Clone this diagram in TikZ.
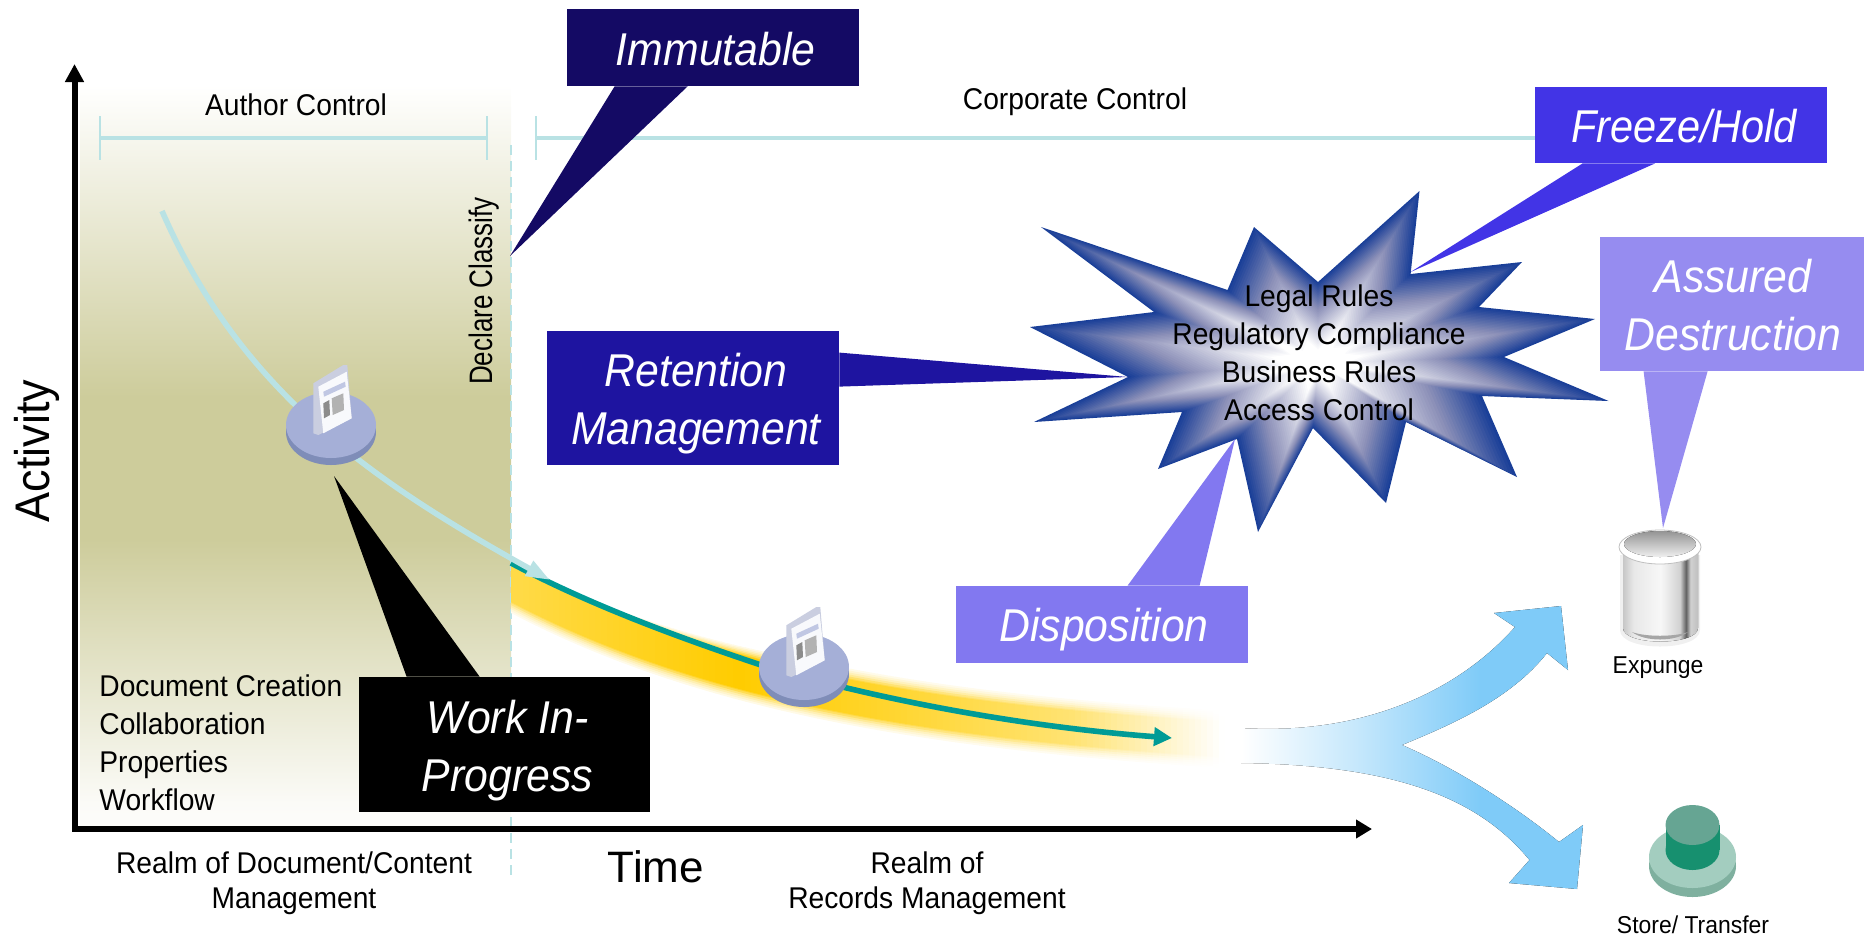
\documentclass[tikz,border=0pt]{standalone}
\usepackage{fontspec}
\usetikzlibrary{arrows.meta,calc}
\newfontfamily\bodyf[FakeStretch=0.94]{Liberation Sans}
\newfontfamily\callf[FakeStretch=0.93]{Liberation Sans}
\newfontfamily\plainf{Liberation Sans}
\definecolor{paleline}{HTML}{B9E2E4}
\definecolor{olive}{HTML}{CDCC9B}
\definecolor{immcol}{HTML}{140A64}
\definecolor{retcol}{HTML}{1E14A0}
\definecolor{frzcol}{HTML}{4234E6}
\definecolor{asscol}{HTML}{968CF0}
\definecolor{dspcol}{HTML}{8278F0}
\definecolor{tealcol}{HTML}{009B96}
\definecolor{starblue}{HTML}{1A3F98}
\definecolor{starmid}{HTML}{8C90B8}
\definecolor{disktop}{HTML}{A5AFD7}
\definecolor{diskside}{HTML}{7F8DB8}
\definecolor{skyarrow}{HTML}{7FCBF8}
\definecolor{gold}{HTML}{FFCC00}
\definecolor{stackbase}{HTML}{A3CDBF}
\definecolor{stackbaseside}{HTML}{7FB09F}
\definecolor{stackside}{HTML}{17906F}
\definecolor{stacktop}{HTML}{66A593}
% tikz fits a path's box onto 25bp..75bp of a shading
\pgfdeclareverticalshading{panelshade}{100bp}{color(0bp)=(olive!4!white);color(25bp)=(olive!4!white);color(26.75bp)=(olive!8!white);color(44.5bp)=(olive);color(54bp)=(olive);color(75bp)=(white);color(100bp)=(white)}
\pgfdeclarehorizontalshading{forkshade}{100bp}{color(0bp)=(white);color(25bp)=(white);color(42bp)=(skyarrow!45!white);color(60bp)=(skyarrow);color(100bp)=(skyarrow)}
\pgfdeclarehorizontalshading{bucketshade}{100bp}{color(0bp)=(black!22);color(25bp)=(black!22);color(32bp)=(black!9);color(50bp)=(black!3);color(63bp)=(black!18);color(67bp)=(black!62);color(70bp)=(black!18);color(75bp)=(black!25);color(100bp)=(black!25)}
\pgfdeclareverticalshading{bucketin}{100bp}{color(0bp)=(black!6);color(25bp)=(black!6);color(75bp)=(black!42);color(100bp)=(black!42)}
\newcommand\stardraw{(1318,282)--(1419.5,191)--(1410.6,274)--(1522,262)--(1479,307)--(1595,319)--(1504,357)--(1608.6,401)--(1482,396)--(1517,477)--(1406,422)--(1386,503)--(1313,428)--(1258,532)--(1237,439)--(1158,469)--(1182,412)--(1034,422)--(1128,377)--(1030,327)--(1154,312)--(1041,227)--(1227.5,290)--(1254,227)--cycle}
\newcommand\docdisk[2]{%
 \begin{scope}[shift={(#1,#2)}]
  \fill[diskside] (331,432) ellipse [x radius=45,y radius=33];
  \fill[disktop] (331,425) ellipse [x radius=45,y radius=33];
  \fill[black!10!disktop!50!white] (313.3,383.3)--(343.3,365)--(347.3,365)--(351.7,418.3)--(318.3,435)--(313.3,433.3)--cycle;
  \fill[white!92!disktop] (318.3,386.7)--(346.7,371.7)--(351.7,418.3)--(323.3,433.3)--cycle;
  \fill[black!45] (323.3,403.3)--(329.3,400)--(330,415)--(324,418.3)--cycle;
  \fill[black!30] (331.7,398.3)--(343.3,393.3)--(344,410)--(332.7,415)--cycle;
  \fill[disktop!70!white] (323.3,391.7)--(345,381.7)--(345.7,386.7)--(324,396.7)--cycle;
 \end{scope}}
\tikzset{
 bracketmain/.style={draw=paleline,line width=2.4pt},
 bracketend/.style={draw=paleline,line width=1.2pt},
 callbox/.style={inner sep=0pt},
 calltext/.style={inner sep=0pt,text=white,align=center,
   font=\callf\itshape\fontsize{23}{29}\selectfont},
 bodytext/.style={inner sep=0pt,align=center,anchor=base,font=\bodyf\fontsize{15}{17.5}\selectfont},
 listtext/.style={inner sep=0pt,align=left,font=\bodyf\fontsize{15}{19}\selectfont},
 startext/.style={inner sep=0pt,align=center,font=\bodyf\fontsize{15}{19}\selectfont},
 smalltext/.style={inner sep=0pt,anchor=base,font=\bodyf\fontsize{12.2}{14}\selectfont},
 bigtext/.style={inner sep=0pt,anchor=base,font=\plainf\fontsize{22}{26}\selectfont},
}
\pgfmathdeclarefunction{bandtop}{1}{\pgfmathparse{740-177*exp(-(#1-511)/315)}}
\pgfmathdeclarefunction{bandbot}{1}{\pgfmathparse{778-176*exp(-(#1-511)/335)}}
\pgfmathdeclarefunction{bandstr}{1}{\pgfmathparse{(#1<735)*(72+28*((#1-511)/224))+(#1>=735)*(#1<900)*(100-20*((#1-735)/165))+(#1>=900)*(#1<1070)*(80-25*((#1-900)/170))+(#1>=1070)*max(0,55-55*((#1-1070)/150))}}
\begin{document}
\begin{tikzpicture}[x=0.5pt,y=-0.5pt]
\useasboundingbox (0,0) rectangle (1864,939);
% panel
\fill[shading=panelshade] (80,85) rectangle (511,829);
% brackets
\coordinate (authL) at (100,138); \coordinate (authR) at (487,138);
\coordinate (corpL) at (536,138); \coordinate (corpR) at (1540,138);
\draw[bracketmain] (authL)--(authR);
\draw[bracketmain] (corpL)--(corpR);
\draw[bracketend] (100,116)--(100,160) (487,116)--(487,160) (536,116)--(536,160);
% dashed boundary
\coordinate (dashT) at (511,145); \coordinate (dashB) at (511,875);
\draw[draw=paleline,line width=1pt,dash pattern=on 5pt off 3pt] (dashT)--(dashB);
% yellow band, soft-edged, built from strips
\foreach \k in {0,...,119}{
 \pgfmathsetmacro\xa{511+6*\k}
 \pgfmathsetmacro\xb{\xa+6.6}
 \pgfmathsetmacro\ta{bandtop(\xa)}
 \pgfmathsetmacro\tb{bandtop(\xb)}
 \pgfmathsetmacro\ba{bandbot(\xa)}
 \pgfmathsetmacro\bb{bandbot(\xb)}
 \pgfmathsetmacro\gs{bandstr(\xa)}
 \pgfmathsetmacro\up{min(1,(\xa-511)/300)}
 \foreach \d/\f in {11/.10,9/.2,7/.32,5/.48,3/.68,1/.85,0/1}{
  \pgfmathsetmacro\st{\gs*\f}
  \fill[gold!\st!white] (\xa,{\ta-\d*\up}) -- (\xb,{\tb-\d*\up}) -- (\xb,{\bb+\d}) -- (\xa,{\ba+\d}) -- cycle;
 }
}
% teal curve
\coordinate (tealS) at (511,563); \coordinate (tealM) at (761,665); \coordinate (tealE) at (1172,738);
\draw[tealcol,line width=2.8pt,-{Triangle[length=9pt,width=9pt]}] (tealS) .. controls (590,605) and (680,638) .. (tealM) .. controls (850,692) and (1000,725) .. (tealE);
% pale curve
\coordinate (paleS) at (162,211); \coordinate (paleE) at (550,580);
\draw[paleline,line width=2.8pt,-{Triangle[length=12pt,width=8pt]}] (paleS) .. controls (240,390) and (370,480) .. (paleE);
% fork
\fill[shading=forkshade] (1241,728) .. controls (1350,735) and (1450,700) .. (1515,627) -- (1494,613) -- (1561,606) -- (1568,670) -- (1547,653) .. controls (1510,700) and (1450,725) .. (1402,745) .. controls (1460,770) and (1520,810) .. (1559,842) -- (1583,825) -- (1577,889) -- (1509,883) -- (1529.5,860) .. controls (1480,800) and (1400,765) .. (1241,763) -- cycle;
% disks
\docdisk{0}{0}
\docdisk{473}{242}
% star: path gradient from nested copies
\foreach \i in {0,...,48}{
 \pgfmathsetmacro\sc{1-\i/48}
 \pgfmathsetmacro\mixa{min(100,100*\i/16)}
 \pgfmathsetmacro\mixb{100-max(0,min(100,100*(\i-16)/24))}
 \begin{scope}[shift={(1318,363)},scale=\sc,shift={(-1318,-363)}]
  \fill[starmid!\mixa!starblue!\mixb!white] \stardraw;
 \end{scope}
}
% axes
\coordinate (ytip) at (74.5,64); \coordinate (origin) at (74.5,829); \coordinate (xtip) at (1372,829);
\draw[line width=3pt,line join=miter,{Triangle[length=9pt,width=9pt]}-{Triangle[length=8pt,width=9pt]}] (ytip)--(origin)--(xtip);
% callouts
\node[callbox,fill=immcol,minimum width=145.75pt,minimum height=38.5pt] (imm) at (712.75,47.5) {};
\node[callbox,fill=retcol,minimum width=146pt,minimum height=67pt] (ret) at (693,398) {};
\node[callbox,fill=frzcol,minimum width=146pt,minimum height=38pt] (frz) at (1681,125) {};
\node[callbox,fill=asscol,minimum width=132pt,minimum height=67pt] (ass) at (1732,304) {};
\node[callbox,fill=dspcol,minimum width=146pt,minimum height=38.5pt] (dsp) at (1102,624.5) {};
\node[callbox,fill=black,minimum width=145.5pt,minimum height=67.5pt] (wrk) at (504.5,744.5) {};
\node[calltext,text height=16.5pt,text depth=0pt] (immtxt) at ($(imm.center)+(3,1)$) {Immutable};
\node[calltext] (rettxt) at ($(ret.center)+(3,6)$) {Retention\\Management};
\node[calltext,text height=16.5pt,text depth=0pt] (frztxt) at ($(frz.center)+(3,1)$) {\scalebox{.97}[1]{Freeze/Hold}};
\node[calltext] (asstxt) at ($(ass.center)+(1,1)$) {Assured\\Destruction};
\node[calltext,text height=16.5pt,text depth=0pt] (dsptxt) at ($(dsp.center)+(2,0)$) {Disposition};
\node[calltext] (wrktxt) at ($(wrk.center)+(3,6)$) {Work In-\\Progress};
% pointers
\coordinate (immtip) at (510,256);
\fill[immcol] ($(imm.south west)+(48,0)$)--(immtip)--($(imm.south west)+(121,0)$)--cycle;
\coordinate (rettip) at (1128,377);
\fill[retcol] ($(ret.north east)+(0,22)$)--(rettip)--($(ret.north east)+(0,56)$)--cycle;
\coordinate (frztip) at (1410.6,272);
\fill[frzcol] ($(frz.south west)+(48,0)$)--(frztip)--($(frz.south west)+(120.5,0)$)--cycle;
\coordinate (asstip) at (1663,528);
\fill[asscol] ($(ass.south west)+(44,0)$)--(asstip)--($(ass.south west)+(108,0)$)--cycle;
\coordinate (dsptip) at (1235,439);
\fill[dspcol] ($(dsp.north west)+(172,0)$)--(dsptip)--($(dsp.north west)+(244,0)$)--cycle;
\coordinate (wrktip) at (334,476);
\fill[black] ($(wrk.north west)+(48,0)$)--(wrktip)--($(wrk.north west)+(121,0)$)--cycle;
% bucket
\fill[black!6] (1620,555) -- (1700,555) -- (1700,630) .. controls (1700,652) and (1620,652) .. (1620,630) -- cycle;
\fill[shading=bucketshade] (1623,547) -- (1698,547) -- (1698,628) .. controls (1698,646) and (1623,646) .. (1623,628) -- cycle;
\fill[black!35] (1632,632) .. controls (1645,642) and (1675,642) .. (1688,632) .. controls (1675,637) and (1645,637) .. (1632,632) -- cycle;
\fill[white] (1660,547) ellipse [x radius=41,y radius=17];
\draw[black!25,line width=.4pt] (1660,547) ellipse [x radius=41,y radius=17];
\fill[shading=bucketin] (1660,544) ellipse [x radius=36,y radius=13];
% cylinder stack
\fill[stackbaseside] (1692.5,866) ellipse [x radius=43.5,y radius=31];
\fill[stackbase] (1692.5,857) ellipse [x radius=43.5,y radius=31];
\fill[stackside] (1665.5,825) rectangle (1719.5,850);
\fill[stackside] (1692.5,850) ellipse [x radius=27,y radius=20];
\fill[stacktop] (1692.5,825) ellipse [x radius=27,y radius=20];
% texts
\node[bodytext] (authtxt) at (296,115) {Author Control};
\node[bodytext] (corptxt) at (1075,109) {Corporate Control};
\node[listtext,anchor=north west] (listtxt) at (99,674.5) {Document Creation\\Collaboration\\Properties\\Workflow};
\node[startext] (startxt) at (1319,353) {Legal Rules\\Regulatory Compliance\\Business Rules\\Access Control};
\node[bodytext,anchor=north] (realmA) at (294,851) {Realm of Document/Content\\Management};
\node[bodytext,anchor=north] (realmB) at (927,851) {Realm of\\Records Management};
\node[bigtext] (timetxt) at (656,882) {Time};
\node[smalltext] (exptxt) at (1658,673) {Expunge};
\node[smalltext] (stotxt) at (1693,933) {Store/ Transfer};
\node[inner sep=0pt,rotate=90,anchor=base,font=\plainf\fontsize{22.5}{26}\selectfont] (acttxt) at (49,451) {\scalebox{1}[1.08]{Activity}};
\node[inner sep=0pt,rotate=90,anchor=base,font=\plainf\fontsize{13}{15}\selectfont] (decltxt) at (492,291) {\scalebox{1}[1.25]{Declare Classify}};
\end{tikzpicture}
\end{document}
